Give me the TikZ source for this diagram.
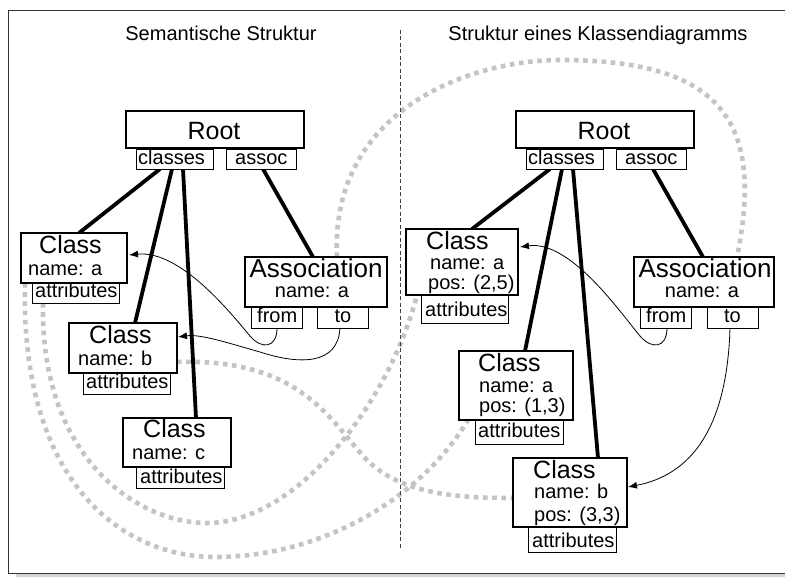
\documentclass[tikz,border=0pt]{standalone}
\usepackage{fontspec}
\setmainfont{Liberation Sans}
\usetikzlibrary{arrows.meta}
\pgfdeclarelayer{back}
\pgfdeclarelayer{mid}
\pgfsetlayers{back,mid,main}
\definecolor{dotgray}{HTML}{C4C4C4}
\definecolor{shadowgray}{HTML}{D4D4D4}
\tikzset{
  box/.style={draw=black, line width=1.1pt, fill=white, inner sep=0pt, outer sep=0pt, anchor=north west},
  subbox/.style={box, line width=0.9pt},
  big/.style={font=\fontsize{25}{30}\selectfont, inner sep=0pt},
  bigger/.style={font=\fontsize{26}{31}\selectfont, inner sep=0pt},
  small/.style={font=\fontsize{20}{24}\selectfont, inner sep=0pt},
  link/.style={line width=3.8pt},
  ref/.style={line width=0.8pt, -{Latex[length=9pt,width=7pt]}},
  trace/.style={draw=dotgray, line width=4.6pt, dash pattern=on 4.6pt off 4.6pt},
  divider/.style={draw=black!75, line width=0.9pt, dash pattern=on 4pt off 2.5pt},
}
% \bx[style]{name}{x1}{y1}{x2}{y2}: box from top-left (x1,y1) to bottom-right (x2,y2)
\newcommand\bx[6][box]{\node[#1, minimum width=#5pt-#3pt, minimum height=#6pt-#4pt] (#2) at (#3,#4) {};}
\begin{document}
\begin{tikzpicture}[x=1pt,y=-1pt]
\useasboundingbox (0,0) rectangle (785,577);

% frame with its shadow
\fill[shadowgray] (16,574) rectangle (786,578);
\draw[black!80, line width=1pt] (8.5,11) rectangle (800,573);

% ---------- left: semantic structure ----------
\node[small, anchor=base] (ttlL) at (221,41) {Semantische Struktur};
\bx{rootL}{126}{111}{304}{148}
\bx[subbox]{clsL}{136}{149}{213}{169}
\bx[subbox]{ascL}{226}{149}{296}{169}
\bx{caL}{21}{233}{127}{283}
\bx[subbox]{caLat}{32}{283}{119}{303}
\bx{cbL}{69}{323}{177}{373}
\bx[subbox]{cbLat}{83}{373}{170}{394}
\bx{ccL}{123}{418}{231}{467}
\bx[subbox]{ccLat}{136}{467}{224}{488}
\bx{asL}{245}{257}{387}{307}
\bx[subbox]{frL}{251}{307}{302}{328}
\bx[subbox]{toL}{317}{307}{368}{328}

\node[big, anchor=base] (rootLt) at (214,140) {Root};
\node[small, anchor=base west] (clsLt) at (138,165) {classes};
\node[small, anchor=base west] (ascLt) at (235,165) {assoc};
\node[big, anchor=base west] (caLt) at (39,254) {Class};
\node[small, anchor=base west] (caLn) at (28,276) {name: a};
\node[small, anchor=base west] (caLa) at (35,298) {attributes};
\node[big, anchor=base west] (cbLt) at (89,344) {Class};
\node[small, anchor=base west] (cbLn) at (78,366) {name: b};
\node[small, anchor=base west] (cbLa) at (86,389) {attributes};
\node[big, anchor=base west] (ccLt) at (143,438) {Class};
\node[small, anchor=base west] (ccLn) at (132,460) {name: c};
\node[small, anchor=base west] (ccLa) at (140,483) {attributes};
\node[bigger, anchor=base] (asLt) at (316,278) {Association};
\node[small, anchor=base] (asLn) at (312,298) {name: a};
\node[small, anchor=base west] (frLt) at (257,323) {from};
\node[small, anchor=base] (toLt) at (343,323) {to};

% ---------- right: class diagram structure ----------
\node[small, anchor=base] (ttlR) at (598,41) {Struktur eines Klassendiagramms};
\bx{rootR}{516}{111}{694}{148}
\bx[subbox]{clsR}{526}{149}{603}{169}
\bx[subbox]{ascR}{616}{149}{686}{169}
\bx{caR}{406}{229}{518}{295}
\bx[subbox]{caRat}{421}{295}{508}{323}
\bx{cdR}{459}{351}{573}{420}
\bx[subbox]{cdRat}{475}{420}{563}{444}
\bx{cbR}{513}{458}{627}{527}
\bx[subbox]{cbRat}{528}{527}{616}{552}
\bx{asR}{634}{257}{774}{307}
\bx[subbox]{frR}{640}{307}{691}{328}
\bx[subbox]{toR}{707}{307}{758}{328}

\node[big, anchor=base] (rootRt) at (604,140) {Root};
\node[small, anchor=base west] (clsRt) at (528,165) {classes};
\node[small, anchor=base west] (ascRt) at (625,165) {assoc};
\node[big, anchor=base west] (caRt) at (426,250) {Class};
\node[small, anchor=base west] (caRn) at (430,270) {name: a};
\node[small, anchor=base west] (caRp) at (428,290) {pos: (2,5)};
\node[small, anchor=base west] (caRa) at (425,317) {attributes};
\node[big, anchor=base west] (cdRt) at (478,372) {Class};
\node[small, anchor=base west] (cdRn) at (479,392) {name: a};
\node[small, anchor=base west] (cdRp) at (479,413) {pos: (1,3)};
\node[small, anchor=base west] (cdRa) at (478,438) {attributes};
\node[big, anchor=base west] (cbRt) at (533,478) {Class};
\node[small, anchor=base west] (cbRn) at (534,498) {name: b};
\node[small, anchor=base west] (cbRp) at (534,521) {pos: (3,3)};
\node[small, anchor=base west] (cbRa) at (532,547) {attributes};
\node[bigger, anchor=base] (asRt) at (705,278) {Association};
\node[small, anchor=base] (asRn) at (702,298) {name: a};
\node[small, anchor=base west] (frRt) at (646,323) {from};
\node[small, anchor=base] (toRt) at (732.5,323) {to};

% ---------- containment links and references ----------
\begin{pgfonlayer}{mid}
  \draw[link] ([xshift=24pt]clsL.south west) -- ([xshift=58pt]caL.north west);
  \draw[link] ([xshift=36pt]clsL.south west) -- ([xshift=66pt]cbL.north west);
  \draw[link] ([xshift=47pt]clsL.south west) -- ([xshift=73pt]ccL.north west);
  \draw[link] ([xshift=37pt]ascL.south west) -- ([xshift=68pt]asL.north west);

  \draw[link] ([xshift=24pt]clsR.south west) -- ([xshift=66pt]caR.north west);
  \draw[link] ([xshift=36pt]clsR.south west) -- ([xshift=66pt]cdR.north west);
  \draw[link] ([xshift=47pt]clsR.south west) -- ([xshift=85pt]cbR.north west);
  \draw[link] ([xshift=37pt]ascR.south west) -- ([xshift=69pt]asR.north west);

  \draw[ref] ([xshift=26pt]frL.south west) .. controls (277,348) and (262,350) .. (250,336)
     .. controls (230,312) and (180,250) .. ([xshift=2pt,yshift=3pt]caL.east);
  \draw[ref] ([xshift=23pt]toL.south west) .. controls (338,365) and (300,365) .. (260,352)
     .. controls (225,342) and (200,334) .. ([xshift=1pt,yshift=11pt]cbL.east);
  \draw[ref] ([xshift=27pt]frR.south west) .. controls (667,348) and (652,350) .. (640,336)
     .. controls (620,312) and (570,240) .. ([xshift=2pt,yshift=15pt]caR.east);
  \draw[ref] ([xshift=23pt]toR.south west) .. controls (727,430) and (690,475)
     .. ([xshift=1pt,yshift=5.5pt]cbR.east);
\end{pgfonlayer}

% ---------- correspondence traces and divider ----------
\begin{pgfonlayer}{back}
  \draw[trace] ([xshift=92pt]asL.north west) .. controls (330,110) and (470,60) .. (560,60)
     .. controls (720,60) and (765,120) .. ([xshift=103pt]asR.north west);
  \draw[trace] ([yshift=-14pt]cbL.east) .. controls (300,358) and (330,420) .. (365,458)
     .. controls (400,495) and (460,498) .. ([yshift=-5.5pt]cbR.west);
  \draw[trace] ([xshift=11pt]caLat.south west) .. controls (40,460) and (140,525) .. (210,523)
     .. controls (300,520) and (390,400) .. ([xshift=11pt]caR.south west);
  \draw[trace] ([xshift=4pt]caL.south west) .. controls (20,480) and (120,557) .. (215,557)
     .. controls (320,557) and (420,500) .. ([xshift=9pt]cdR.south west);
  \draw[divider] (400,30) -- (400,548);
\end{pgfonlayer}
\end{tikzpicture}
\end{document}
